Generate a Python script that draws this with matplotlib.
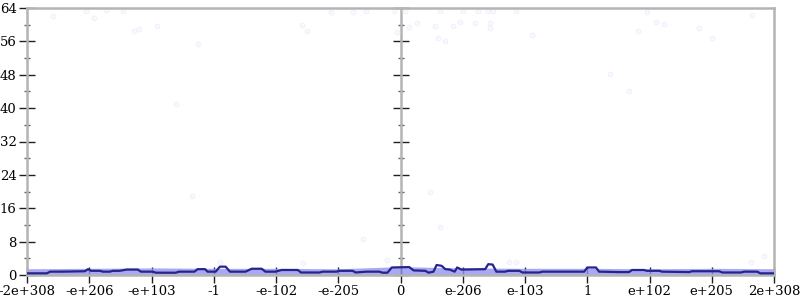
import matplotlib
matplotlib.use("Agg")
import matplotlib.pyplot as plt
from matplotlib.ticker import MultipleLocator

# x positions are in "tick units" along the flonum ordinal axis (-6 .. 6)
tick_pos = list(range(-6, 7))
tick_labels = ["-2e+308", "-e+206", "-e+103", "-1", "-e-102", "-e-205", "0",
               "e-206", "e-103", "1", "e+102", "e+205", "2e+308"]

# mean line
line_x = [-6.0, -5.68, -5.63, -5.44, -5.07, -5.02, -4.97, -4.83, -4.78, -4.67,
          -4.62, -4.51, -4.40, -4.22, -4.17, -3.98, -3.93, -3.61, -3.56, -3.31,
          -3.26, -3.14, -3.10, -2.97, -2.90, -2.81, -2.74, -2.49, -2.39, -2.23,
          -2.17, -2.01, -1.91, -1.65, -1.60, -1.30, -1.25, -1.03, -0.98, -0.77,
          -0.72, -0.55, -0.34, -0.29, -0.21, -0.14, 0.14,
          0.21, 0.40, 0.45, 0.53, 0.58, 0.66, 0.72, 0.79, 0.87, 0.91, 0.98,
          1.36, 1.41, 1.48, 1.54, 1.68, 1.73, 1.91, 1.96, 2.23, 2.28, 2.95,
          3.00, 3.14, 3.19, 3.51, 3.67, 3.72, 3.91, 3.96, 4.16, 4.20, 4.64,
          4.68, 5.12, 5.17, 5.47, 5.52, 5.73, 5.78, 6.0]
line_y = [0.4, 0.4, 0.8, 0.8, 0.9, 1.4, 1.0, 1.0, 0.8, 0.8,
          1.0, 1.0, 1.3, 1.3, 0.8, 0.8, 0.55, 0.55, 0.8, 0.8,
          1.4, 1.4, 0.8, 0.8, 2.0, 2.0, 0.8, 0.8, 1.5, 1.5,
          0.8, 0.8, 1.2, 1.2, 0.6, 0.6, 0.8, 0.8, 1.0, 1.0,
          0.6, 0.8, 0.8, 0.55, 0.55, 1.8, 1.9,
          1.1, 1.0, 0.55, 0.8, 2.4, 2.2, 1.4, 1.3, 0.8, 1.8, 1.3,
          1.4, 2.6, 2.5, 0.8, 0.8, 1.0, 1.0, 0.6, 0.6, 0.8, 0.8,
          1.8, 1.8, 0.8, 0.7, 0.7, 1.2, 1.2, 1.0, 1.0, 0.8, 0.7,
          0.9, 0.9, 0.6, 0.6, 0.8, 0.8, 0.4, 0.4]

# dense band of samples near zero
band_x = [-6, -5, -4, -3, -2, -1, 0, 1, 2, 3, 4, 5, 6]
band_top = [1.5, 1.6, 1.7, 1.6, 1.6, 1.5, 2.0, 1.7, 1.6, 1.6, 1.5, 1.6, 1.5]

# sparse outlying samples
pts_x = [-5.58, -5.05, -4.93, -4.73, -4.46, -4.28, -4.20, -3.91, -3.26, -3.61,
         -3.35, -1.12, -0.77, -0.55, -0.11, 0.08, 0.63, 1.01, 1.24, 1.40,
         1.49, 1.86, -1.59, -1.51, -0.05, 0.13, 0.26, 0.55, 0.61, 0.72,
         0.85, 0.96, 1.20, 1.44, 1.43, 2.12, 3.96, 4.11, 4.24, 3.82,
         4.80, 5.01, 5.65, 3.37, 3.67, 0.47, 0.64, -0.61, -0.22, -1.57,
         -2.90, 1.75, 1.86, 5.63, 5.84]
pts_y = [62.1, 63.3, 61.6, 63.5, 63.3, 58.5, 59.0, 59.7, 55.4, 41.0,
         18.9, 63.1, 63.1, 63.3, 63.3, 63.3, 63.3, 63.3, 63.3, 63.3,
         63.3, 63.3, 60.0, 58.5, 58.3, 59.5, 60.4, 59.7, 56.8, 56.1,
         59.7, 60.7, 60.4, 60.4, 59.2, 57.6, 63.1, 60.7, 60.2, 58.5,
         59.2, 56.8, 62.4, 48.2, 44.1, 19.9, 11.5, 8.6, 3.6, 2.9,
         3.1, 3.1, 3.1, 3.1, 4.6]

axis_gray = "#b4b4b4"

fig = plt.figure(figsize=(8, 3), dpi=100)
ax = fig.add_axes([27 / 800, 25 / 300, 747 / 800, 267 / 300])

ax.fill_between(band_x, 0, band_top, color="#9494f0", alpha=0.8, lw=0, zorder=2)
ax.scatter(pts_x, pts_y, s=12, facecolor="#f8f8ff", edgecolor="#efeffd",
           linewidths=0.6, zorder=1)
ax.plot(line_x, line_y, color="#24248c", lw=1.6, zorder=3)

ax.set_xlim(-6, 6)
ax.set_ylim(0, 64)

for side in ["left", "right", "top", "bottom"]:
    ax.spines[side].set_color(axis_gray)
    ax.spines[side].set_linewidth(1.8)

ax.set_xticks(tick_pos)
ax.set_xticklabels(tick_labels)
ax.yaxis.set_major_locator(MultipleLocator(8))
ax.yaxis.set_minor_locator(MultipleLocator(4))
ax.tick_params(axis="both", which="major", direction="inout", length=11,
               width=1, color="#202020", labelsize=9.5, pad=2)
ax.tick_params(axis="y", which="minor", direction="inout", length=5,
               width=1, color="#606060")
ax.tick_params(axis="y", right=True, which="both")
ax.tick_params(axis="x", top=False)

for lab in ax.get_xticklabels() + ax.get_yticklabels():
    lab.set_family("DejaVu Serif")

# vertical axis at x = 0
ax2 = ax.twinx()
ax2.set_ylim(0, 64)
for side in ["left", "top", "bottom"]:
    ax2.spines[side].set_visible(False)
ax2.spines["right"].set_position(("data", 0))
ax2.spines["right"].set_color(axis_gray)
ax2.spines["right"].set_linewidth(1.8)
ax2.yaxis.set_major_locator(MultipleLocator(8))
ax2.yaxis.set_minor_locator(MultipleLocator(4))
ax2.tick_params(axis="y", which="major", direction="inout", length=11,
                width=1, color="#202020", labelright=False)
ax2.tick_params(axis="y", which="minor", direction="inout", length=5,
                width=1, color="#606060")
ax2.set_zorder(ax.get_zorder() - 1)
ax.patch.set_visible(False)

fig.savefig("out.png", dpi=100)
